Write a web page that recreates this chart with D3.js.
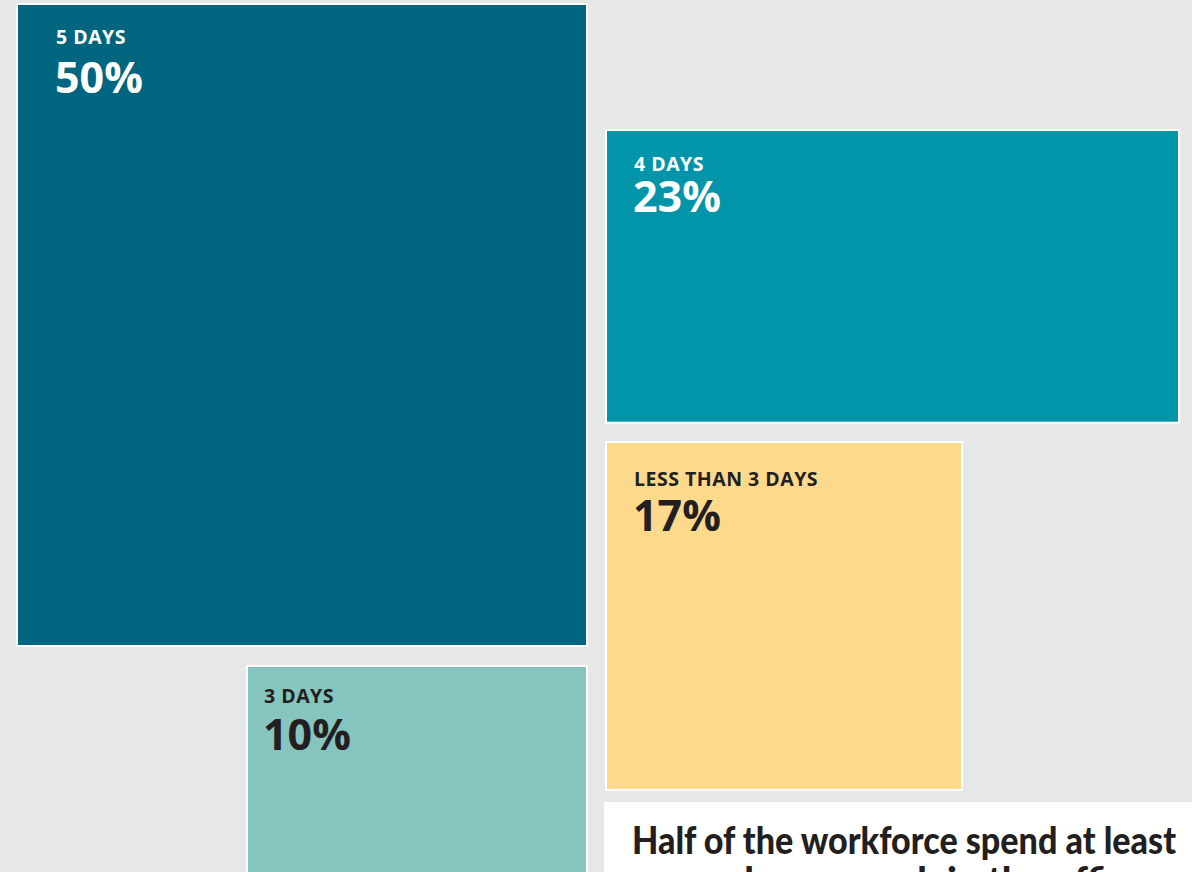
<!DOCTYPE html>
<html>
<head>
<meta charset="utf-8">
<script src="https://cdn.jsdelivr.net/npm/d3@7/dist/d3.min.js"></script>
<style>
  html, body { margin: 0; padding: 0; background: #e6e8e7; }
  svg { display: block; }
</style>
</head>
<body>
<svg id="chart" width="1192" height="872"></svg>
<script>
// ---- data ----
const categories = ["5 DAYS", "4 DAYS", "LESS THAN 3 DAYS", "3 DAYS"];
const values = [50, 23, 17, 10];
const valueLabels = ["50%", "23%", "17%", "10%"];
const titleLines = ["Half of the workforce spend at least", "some days a week in the office"];

// ---- layout / style (not data) ----
const fills = ["#006680", "#0295a9", "#fdd98c", "#86c4bf"];
const textFills = ["#ffffff", "#ffffff", "#231f20", "#231f20"];
const boxX = [16, 605, 605, 246];
const boxY = [3, 129, 441, 665];
const boxW = [572, 575, 358, 342];
const textDx = [39, 28, 28, 17];
const labelDy = [41, 42, 45, 38];
const valueDy = [90, 83, 90, 85];

const svg = d3.select("#chart");
const W = 1192, H = 872;

svg.append("rect").attr("width", W).attr("height", H).attr("fill", "#e6e8e7");

// area scale: value -> pixel area
const area = d3.scaleLinear().domain([0, 50]).range([0, 572 * 644]);

const data = categories.map((c, i) => ({
  cat: c, value: values[i], label: valueLabels[i],
  x: boxX[i], y: boxY[i], w: boxW[i], h: area(values[i]) / boxW[i],
  fill: fills[i], tfill: textFills[i], dx: textDx[i], ldy: labelDy[i], vdy: valueDy[i]
}));

const g = svg.selectAll("g.box").data(data).join("g").attr("class", "box")
  .attr("transform", d => `translate(${d.x},${d.y})`);

g.append("rect")
  .attr("x", 1).attr("y", 1)
  .attr("width", d => d.w - 2).attr("height", d => d.h - 2)
  .attr("fill", d => d.fill)
  .attr("stroke", "#ffffff").attr("stroke-width", 2);

g.append("text")
  .attr("x", d => d.dx + 1).attr("y", d => d.ldy)
  .attr("fill", d => d.tfill)
  .attr("font-family", "'Open Sans', sans-serif")
  .attr("font-weight", 700)
  .attr("font-size", 19.5)
  .attr("letter-spacing", 0.5)
  .text(d => d.cat);

g.append("text")
  .attr("x", d => d.dx).attr("y", d => d.vdy)
  .attr("fill", d => d.tfill)
  .attr("font-family", "'Open Sans', sans-serif")
  .attr("font-weight", 700)
  .attr("font-size", 43)
  .text(d => d.label);

// title box
svg.append("rect")
  .attr("x", 604).attr("y", 802).attr("width", 600).attr("height", 120)
  .attr("fill", "#ffffff");

svg.selectAll("text.title").data(titleLines).join("text")
  .attr("class", "title")
  .attr("x", 632)
  .attr("y", (d, i) => 854 + i * 40)
  .attr("fill", "#231f20")
  .attr("font-family", "Lato, sans-serif")
  .attr("font-weight", 900)
  .attr("font-size", 38)
  .attr("textLength", (d, i) => i === 0 ? 544 : null)
  .attr("lengthAdjust", "spacingAndGlyphs")
  .text(d => d);
</script>
</body>
</html>
